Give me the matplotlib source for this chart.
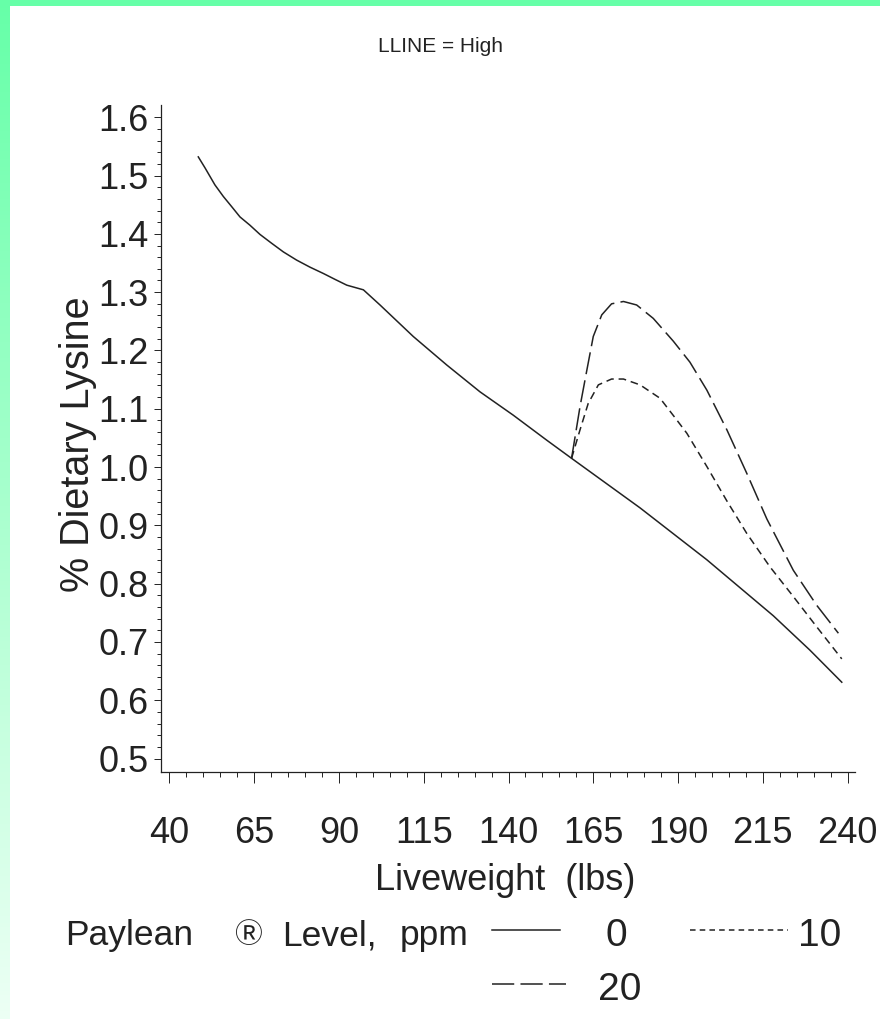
import numpy as np
import matplotlib
matplotlib.use("Agg")
import matplotlib.pyplot as plt
from matplotlib import font_manager
from matplotlib.lines import Line2D
from matplotlib.patches import Rectangle

# ---- data -------------------------------------------------------------
# 0 ppm Paylean: lysine requirement vs liveweight
weight_0 = [48.5, 50.5, 53.4, 55.9, 58.3, 60.8, 63.7, 66.7, 70.1, 73.6, 77.5,
            81.4, 85.4, 88.8, 92.3, 97.2, 102.1, 111.9, 121.8, 131.6, 141.4,
            151.3, 158.6, 178.8, 198.5, 218.1, 228.9, 238.3]
lysine_0 = [1.532, 1.513, 1.484, 1.464, 1.447, 1.429, 1.415, 1.399, 1.384, 1.369, 1.355,
            1.343, 1.332, 1.322, 1.312, 1.304, 1.278, 1.224, 1.175, 1.129, 1.089,
            1.046, 1.015, 0.930, 0.841, 0.745, 0.686, 0.631]

# 10 ppm Paylean (branches off at the start of feeding)
weight_10 = [158.6, 161.1, 163.5, 166.5, 170.4, 173.9, 178.8, 184.7, 189.6,
             192.6, 198.5, 204.4, 210.3, 217.1, 224.0, 230.9, 238.3]
lysine_10 = [1.015, 1.064, 1.109, 1.141, 1.151, 1.151, 1.141, 1.118, 1.081,
             1.058, 1.001, 0.942, 0.886, 0.829, 0.778, 0.726, 0.671]

# 20 ppm Paylean
weight_20 = [158.6, 161.1, 163.1, 165.0, 167.5, 170.4, 173.9, 177.8, 182.7,
             188.6, 193.5, 198.5, 204.4, 210.3, 216.2, 224.0, 230.9, 237.3]
lysine_20 = [1.015, 1.104, 1.166, 1.224, 1.261, 1.280, 1.284, 1.278, 1.255,
             1.216, 1.180, 1.132, 1.064, 0.989, 0.911, 0.823, 0.763, 0.715]

x_ticks = [40, 65, 90, 115, 140, 165, 190, 215, 240]
y_ticks = [0.5, 0.6, 0.7, 0.8, 0.9, 1.0, 1.1, 1.2, 1.3, 1.4, 1.5, 1.6]
levels = ["0", "10", "20"]

# ---- fonts ------------------------------------------------------------
installed = {f.name for f in font_manager.fontManager.ttflist}
SANS = "Liberation Sans" if "Liberation Sans" in installed else "DejaVu Sans"
sans = [SANS, "Noto Sans CJK JP", "DejaVu Sans"]

plt.rcParams["lines.scale_dashes"] = False
INK = "#222222"

fig = plt.figure(figsize=(8.8, 10.19), dpi=100)
fig.patch.set_facecolor("white")

# mint frame: solid top band, fading band down the left edge
bg = fig.add_axes([0, 0, 1, 1], zorder=-5)
bg.set_axis_off()
bg.set_xlim(0, 880)
bg.set_ylim(1019, 0)
mint = np.array([0.40, 1.0, 0.66])
grad = np.linspace(0, 1, 256)[:, None]
cols = mint[None, :] * (1 - grad * 0.88) + np.array([1, 1, 1])[None, :] * grad * 0.88
bg.imshow(cols[:, None, :], extent=[0, 10, 1019, 0], aspect="auto")
bg.add_patch(Rectangle((0, 0), 880, 6, color=mint, lw=0))

# ---- main axes --------------------------------------------------------
ax = fig.add_axes([161 / 880, 1 - 772 / 1019, (855 - 161) / 880, (772 - 105) / 1019])
ax.set_facecolor("none")

ax.plot(weight_0, lysine_0, color=INK, lw=1.1, solid_joinstyle="round")
ax.plot(weight_10, lysine_10, color=INK, lw=1.1, dashes=(5.5, 3.5))
ax.plot(weight_20, lysine_20, color=INK, lw=1.1, dashes=(16, 4.5))

ax.set_xlim(37.5, 242.2)
ax.set_ylim(0.477, 1.621)
for s in ["top", "right"]:
    ax.spines[s].set_visible(False)
for s in ["left", "bottom"]:
    ax.spines[s].set_linewidth(0.9)
    ax.spines[s].set_color(INK)

ax.set_xticks(x_ticks)
ax.set_xticklabels([str(v) for v in x_ticks], family=sans, fontsize=26)
ax.set_xticks(np.arange(40, 241, 5), minor=True)
ax.set_yticks(y_ticks)
ax.set_yticklabels([f"{v:.1f}" for v in y_ticks], family=sans, fontsize=26)
ax.set_yticks(np.arange(0.5, 1.601, 0.02), minor=True)

ax.tick_params(axis="x", which="major", length=8, width=0.7, color=INK, pad=24, labelcolor=INK)
ax.tick_params(axis="x", which="minor", length=3.8, width=0.7, color=INK)
ax.tick_params(axis="y", which="major", length=5, width=0.7, color=INK, pad=4, labelcolor=INK)
ax.tick_params(axis="y", which="minor", length=3, width=0.7, color=INK)

# ---- text -------------------------------------------------------------
fig.text(441 / 880, 1 - 46 / 1019, "LLINE = High", family=sans, fontsize=15,
         ha="center", va="center", color=INK)
fig.text(78 / 880, 1 - 444 / 1019, "% Dietary Lysine", family=sans, fontsize=28.5,
         rotation=90, ha="center", va="center", color=INK)
fig.text(505 / 880, 1 - 880 / 1019, "Liveweight  (lbs)", family=sans, fontsize=26,
         ha="center", va="center", color=INK)

# legend title
legend_y = 1 - 936 / 1019
for txt, lx, fs in [("Paylean", 65, 25.5), ("\u24c7", 234, 20),
                    ("Level,", 282, 25.5), ("ppm", 400, 25.5)]:
    fig.text(lx / 880, legend_y, txt, family=sans, fontsize=fs,
             ha="left", va="center", color=INK)


def key(x0, x1, y, dashes, label, lx):
    fy = 1 - y / 1019
    ln = Line2D([x0 / 880, x1 / 880], [fy, fy], transform=fig.transFigure,
                color=INK, lw=1.1)
    if dashes is not None:
        ln.set_dashes(dashes)
    fig.add_artist(ln)
    fig.text(lx / 880, 1 - (y + 6) / 1019, label, family=sans, fontsize=28,
             ha="left", va="center", color=INK)


key(492, 560, 930, None, levels[0], 605)
key(690, 788, 930, (4, 3), levels[1], 798)
key(492, 566, 984, (16, 4.5), levels[2], 598)

fig.savefig("out.png", dpi=100, facecolor="white")
